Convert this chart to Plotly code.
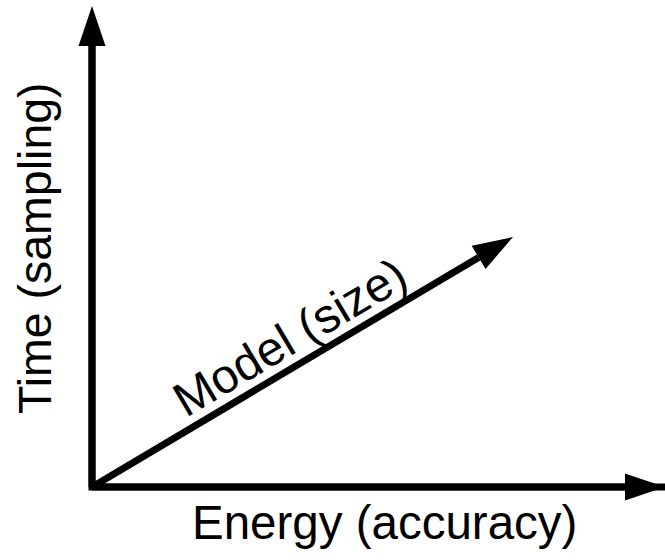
import math
import plotly.graph_objects as go

# arrow end points, origin at (0, 0)
arrow_names = ["Energy (accuracy)", "Time (sampling)", "Model (size)"]
arrow_x = [573, 0, 421]
arrow_y = [0, 481, 250]

# label centres, angles and font sizes
label_x = [292, -57, 197]
label_y = [-35, 239, 150]
label_angle = [0, -90, -30.7]
label_size = [47.5, 46.5, 48]

HEAD_LEN = 40
HEAD_HALF = 13.5
LINE_W = 7

fig = go.Figure()

# the two axes as one L so the corner is square
fig.add_trace(go.Scatter(x=[arrow_x[1], 0, arrow_x[0]], y=[arrow_y[1] - HEAD_LEN, 0, arrow_y[0]],
                         mode="lines", line=dict(color="black", width=LINE_W),
                         hoverinfo="skip", showlegend=False))

for ex, ey in zip(arrow_x, arrow_y):
    length = math.hypot(ex, ey)
    dx, dy = ex / length, ey / length
    bx, by = ex - HEAD_LEN * dx, ey - HEAD_LEN * dy
    # shaft
    fig.add_trace(go.Scatter(x=[0, bx], y=[0, by], mode="lines",
                             line=dict(color="black", width=LINE_W),
                             hoverinfo="skip", showlegend=False))
    # head
    fig.add_trace(go.Scatter(x=[ex, bx - HEAD_HALF * dy, bx + HEAD_HALF * dy, ex],
                             y=[ey, by + HEAD_HALF * dx, by - HEAD_HALF * dx, ey],
                             mode="lines", fill="toself", fillcolor="black",
                             line=dict(color="black", width=0),
                             hoverinfo="skip", showlegend=False))

for name, lx, ly, ang, fs in zip(arrow_names, label_x, label_y, label_angle, label_size):
    fig.add_annotation(x=lx, y=ly, text=name, showarrow=False, textangle=ang,
                       xanchor="center", yanchor="middle",
                       font=dict(family="Liberation Sans, Arial", size=fs, color="black"))

fig.update_xaxes(range=[-92, 573], visible=False)
fig.update_yaxes(range=[-73, 487], visible=False)
fig.update_layout(width=665, height=560, margin=dict(l=0, r=0, t=0, b=0),
                  plot_bgcolor="white", paper_bgcolor="white")
fig.write_html("out.html", config={"displayModeBar": False},
               post_script="document.body.style.margin = '0';")
